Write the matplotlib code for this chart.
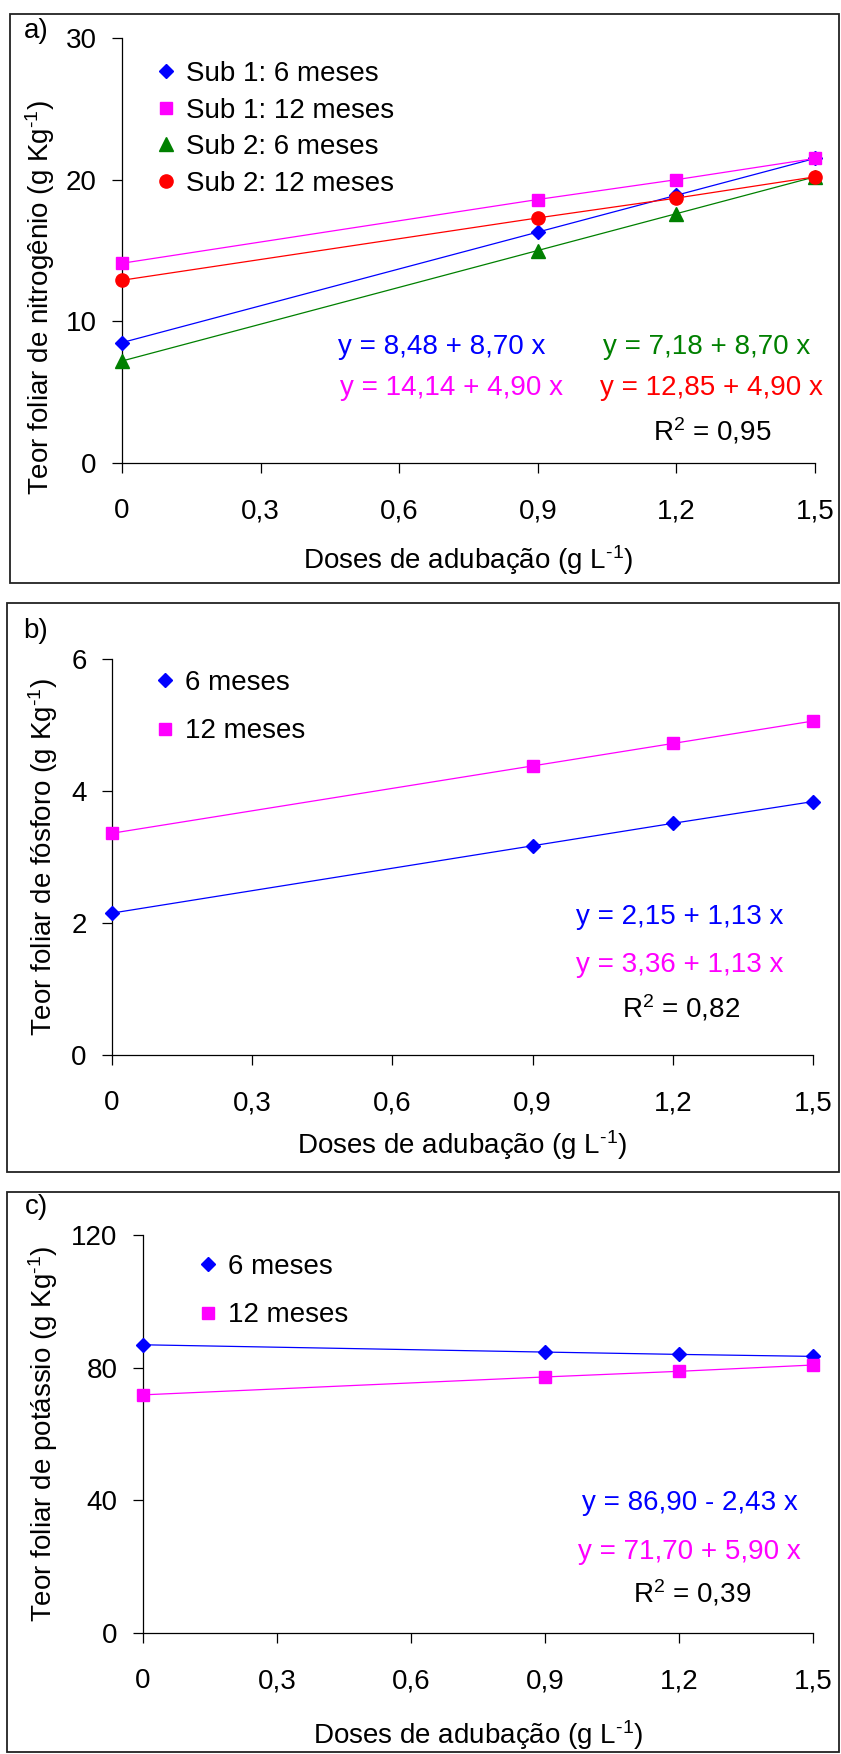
import matplotlib
matplotlib.use('Agg')
import matplotlib.pyplot as plt
from matplotlib.lines import Line2D
from matplotlib.patches import Rectangle

plt.rcParams['font.family'] = ['Liberation Sans', 'DejaVu Sans']
plt.rcParams['mathtext.fontset'] = 'custom'
plt.rcParams['mathtext.rm'] = 'Liberation Sans'
plt.rcParams['mathtext.it'] = 'Liberation Sans:italic'
plt.rcParams['mathtext.default'] = 'regular'

# doses de adubacao (g/L)
doses = [0, 0.9, 1.2, 1.5]
x_ticks = [0, 0.3, 0.6, 0.9, 1.2, 1.5]
x_tick_labels = ['0', '0,3', '0,6', '0,9', '1,2', '1,5']

# a) nitrogenio
n_sub1_6 = [8.5, 16.3, 18.9, 21.5]
n_sub1_12 = [14.1, 18.6, 20.0, 21.5]
n_sub2_6 = [7.2, 15.0, 17.6, 20.2]
n_sub2_12 = [12.9, 17.3, 18.7, 20.2]

# b) fosforo
p_6 = [2.15, 3.17, 3.51, 3.84]
p_12 = [3.36, 4.38, 4.72, 5.06]

# c) potassio
k_6 = [86.9, 84.7, 84.0, 83.4]
k_12 = [71.8, 77.2, 78.9, 80.8]

BLUE, MAG, GREEN, RED = '#0000FF', '#FF00FF', '#008000', '#FF0000'
FS = 20
W, H = 841, 1754
SUP = r'$^{\text{-1}}$'

fig = plt.figure(figsize=(W / 100, H / 100), dpi=100)


def fx(x):
    return x / W


def fy(y):
    return 1 - y / H


def add_panel(left, top, right, bottom, ymax, ystep):
    ax = fig.add_axes([fx(left), fy(bottom), (right - left) / W, (bottom - top) / H])
    ax.set_xlim(0, 1.5)
    ax.set_ylim(0, ymax)
    ax.set_xticks(x_ticks)
    ax.set_xticklabels(x_tick_labels)
    ax.set_yticks(range(0, ymax + 1, ystep))
    for s in ['top', 'right']:
        ax.spines[s].set_visible(False)
    for s in ['left', 'bottom']:
        ax.spines[s].set_linewidth(0.9)
    ax.tick_params(direction='out', length=7.2, width=0.9, labelsize=FS)
    ax.tick_params(axis='y', pad=11)
    ax.tick_params(axis='x', pad=18)
    return ax


def frame(left, top, right, bottom):
    fig.patches.append(Rectangle((fx(left), fy(bottom)), (right - left) / W,
                                 (bottom - top) / H, transform=fig.transFigure,
                                 fill=False, lw=1.3, ec='#222222'))


def txt(x, y, s, color='black', **kw):
    fig.text(fx(x), fy(y), s, color=color, fontsize=FS, **kw)


def series(ax, y, marker, color, ms):
    ax.plot(doses, y, color=color, lw=0.9, marker=marker, ms=ms,
            mec=color, mfc=color, clip_on=False, zorder=3)


def legend(ax, items, x, y, spacing):
    handles = [Line2D([], [], ls='none', marker=m, color=c, ms=ms) for m, c, ms, _ in items]
    labels = [lab for _, _, _, lab in items]
    ax.legend(handles, labels, loc='upper left', bbox_to_anchor=(fx(x), fy(y)),
              bbox_transform=fig.transFigure, frameon=False, fontsize=FS,
              handlelength=0.6, handletextpad=0.4, labelspacing=spacing,
              borderpad=0, borderaxespad=0)


# ---- a) ----
frame(10, 14, 839, 583)
ax = add_panel(122, 38, 815, 463, 30, 10)
series(ax, n_sub1_6, 'D', BLUE, 7.5)
series(ax, n_sub1_12, 's', MAG, 9)
series(ax, n_sub2_6, '^', GREEN, 10)
series(ax, n_sub2_12, 'o', RED, 9.5)
legend(ax, [('D', BLUE, 7.5, 'Sub 1: 6 meses'), ('s', MAG, 9, 'Sub 1: 12 meses'),
            ('^', GREEN, 10, 'Sub 2: 6 meses'), ('o', RED, 9.5, 'Sub 2: 12 meses')],
       158, 61, 0.38)
txt(36, 31, 'a)', ha='center', va='center')
txt(40, 297, 'Teor foliar de nitrogênio (g Kg' + SUP + ')', rotation=90, ha='center', va='center')
txt(468, 560, 'Doses de adubação (g L' + SUP + ')', ha='center', va='center')
txt(338, 347, 'y = 8,48 + 8,70 x', BLUE, ha='left', va='center')
txt(340, 388, 'y = 14,14 + 4,90 x', MAG, ha='left', va='center')
txt(603, 347, 'y = 7,18 + 8,70 x', GREEN, ha='left', va='center')
txt(600, 388, 'y = 12,85 + 4,90 x', RED, ha='left', va='center')
txt(653, 431, 'R$^{2}$ = 0,95', ha='left', va='center')

# ---- b) ----
frame(7, 603, 839, 1172)
ax = add_panel(112, 659, 813, 1055, 6, 2)
series(ax, p_6, 'D', BLUE, 7.5)
series(ax, p_12, 's', MAG, 9)
legend(ax, [('D', BLUE, 7.5, '6 meses'), ('s', MAG, 9, '12 meses')], 157, 670, 0.8)
txt(36, 631, 'b)', ha='center', va='center')
txt(43, 857, 'Teor foliar de fósforo (g Kg' + SUP + ')', rotation=90, ha='center', va='center')
txt(462, 1145, 'Doses de adubação (g L' + SUP + ')', ha='center', va='center')
txt(576, 917, 'y = 2,15 + 1,13 x', BLUE, ha='left', va='center')
txt(576, 965, 'y = 3,36 + 1,13 x', MAG, ha='left', va='center')
txt(622, 1008, 'R$^{2}$ = 0,82', ha='left', va='center')

# ---- c) ----
frame(7, 1192, 839, 1752)
ax = add_panel(143, 1235, 813, 1633, 120, 40)
series(ax, k_6, 'D', BLUE, 7.5)
series(ax, k_12, 's', MAG, 9)
legend(ax, [('D', BLUE, 7.5, '6 meses'), ('s', MAG, 9, '12 meses')], 200, 1254, 0.8)
txt(36, 1207, 'c)', ha='center', va='center')
txt(43, 1434, 'Teor foliar de potássio (g Kg' + SUP + ')', rotation=90, ha='center', va='center')
txt(478, 1735, 'Doses de adubação (g L' + SUP + ')', ha='center', va='center')
txt(582, 1503, 'y = 86,90 - 2,43 x', BLUE, ha='left', va='center')
txt(578, 1552, 'y = 71,70 + 5,90 x', MAG, ha='left', va='center')
txt(633, 1593, 'R$^{2}$ = 0,39', ha='left', va='center')

fig.savefig('out.png', dpi=100)
